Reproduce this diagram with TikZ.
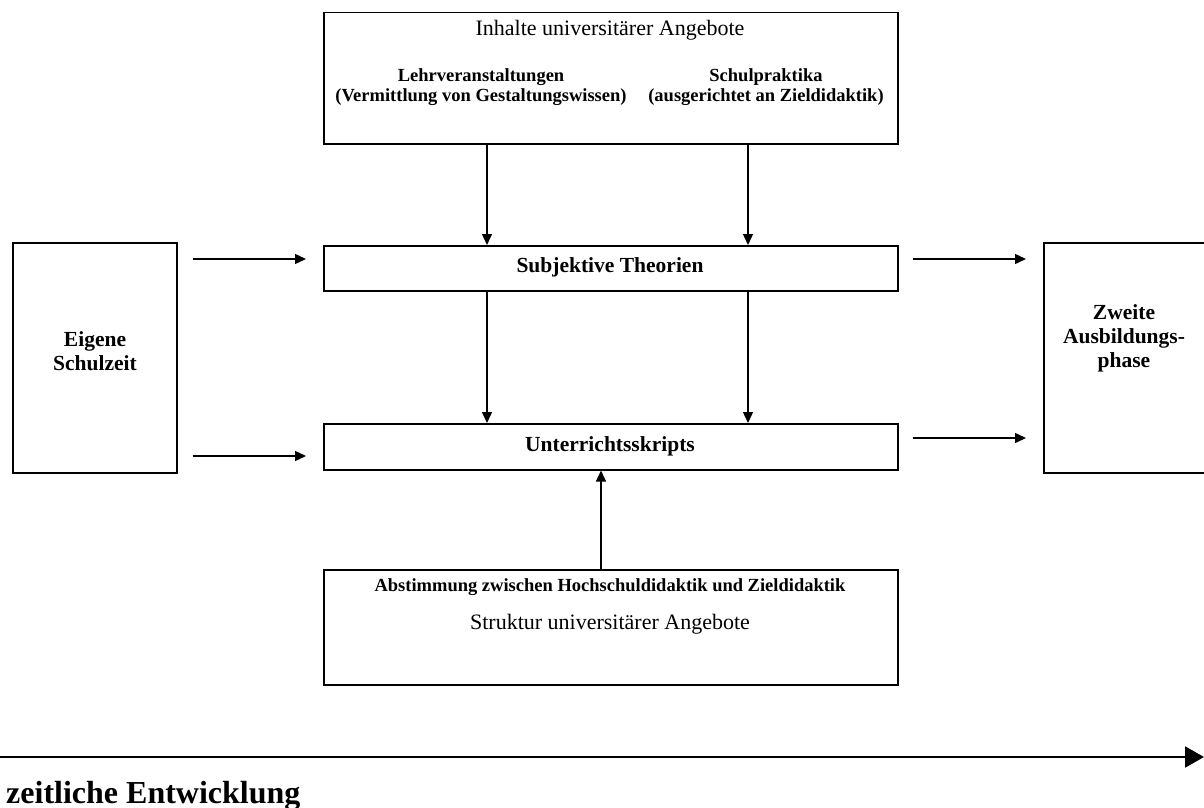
\documentclass[tikz,border=0pt]{standalone}
\usepackage{fontspec}
\setmainfont{Liberation Serif}
\usetikzlibrary{arrows.meta}
\begin{document}
\begin{tikzpicture}[x=1pt,y=-1pt,
  box/.style={draw, line width=1.5pt, inner sep=0pt, anchor=north west},
  reg/.style={inner sep=0pt, font=\fontsize{22}{26}\selectfont},
  bld/.style={inner sep=0pt, align=center, font=\fontsize{18.5}{19.5}\selectfont\bfseries},
  title/.style={inner sep=0pt, align=center, font=\fontsize{21.5}{24}\selectfont\bfseries},
  arr/.style={line width=1.4pt, -{Triangle[length=11pt,width=10pt]}},
  tl/.style={line width=2pt, -{Triangle[length=19pt,width=21pt]}}]
\useasboundingbox (0,0) rectangle (1204,808);

% boxes
\node[box, minimum width=574pt, minimum height=131pt] (inh) at (323,12) {};
\node[box, minimum width=574pt, minimum height=45pt] (subj) at (323,245) {};
\node[box, minimum width=574pt, minimum height=46pt] (unt) at (323,423) {};
\node[box, minimum width=574pt, minimum height=115pt] (str) at (323,569) {};
\node[box, minimum width=164pt, minimum height=230pt] (eig) at (12,242) {};
\node[box, minimum width=164pt, minimum height=230pt] (zw) at (1043,242) {};

% texts
\node[reg] (tinh) at (610,30) {Inhalte universitärer Angebote};
\node[bld] (tlv) at (481,87) {Lehrveranstaltungen\\(Vermittlung von Gestaltungswissen)};
\node[bld] (tsp) at (766,87) {Schulpraktika\\(ausgerichtet an Zieldidaktik)};
\node[title] (tsubj) at (610,267) {Subjektive Theorien};
\node[title] (tunt) at (610,446) {Unterrichtsskripts};
\node[bld] (tabs) at (610,587) {Abstimmung zwischen Hochschuldidaktik und Zieldidaktik};
\node[reg] (tstr) at (610,624) {Struktur universitärer Angebote};
\node[title] (teig) at (95,351) {Eigene\\Schulzeit};
\node[title] (tzw) at (1124,338) {Zweite\\Ausbildungs-\\phase};

% helper coordinates for connector positions
\coordinate (xA) at (487,0);
\coordinate (xB) at (748,0);
\coordinate (xC) at (601,0);
\coordinate (yA) at (0,259);
\coordinate (yB) at (0,456);
\coordinate (yC) at (0,438);

% vertical connectors
\draw[arr] (inh.south -| xA) -- (subj.north -| xA);
\draw[arr] (inh.south -| xB) -- (subj.north -| xB);
\draw[arr] (subj.south -| xA) -- (unt.north -| xA);
\draw[arr] (subj.south -| xB) -- (unt.north -| xB);
\draw[arr] (str.north -| xC) -- (unt.south -| xC);

% horizontal connectors
\draw[arr, shorten <=15pt, shorten >=17pt] (eig.east |- yA) -- (subj.west |- yA);
\draw[arr, shorten <=15pt, shorten >=17pt] (eig.east |- yB) -- (unt.west |- yB);
\draw[arr, shorten <=14pt, shorten >=17pt] (subj.east |- yA) -- (zw.west |- yA);
\draw[arr, shorten <=14pt, shorten >=17pt] (unt.east |- yC) -- (zw.west |- yC);

% time axis
\coordinate (t0) at (0,757);
\coordinate (t1) at (1204,757);
\draw[tl] (t0) -- (t1);
\node[inner sep=0pt, anchor=base west, font=\fontsize{32}{34}\selectfont\bfseries] (tzeit) at (6,803)
  {zeitliche Entwicklung};
\end{tikzpicture}
\end{document}
